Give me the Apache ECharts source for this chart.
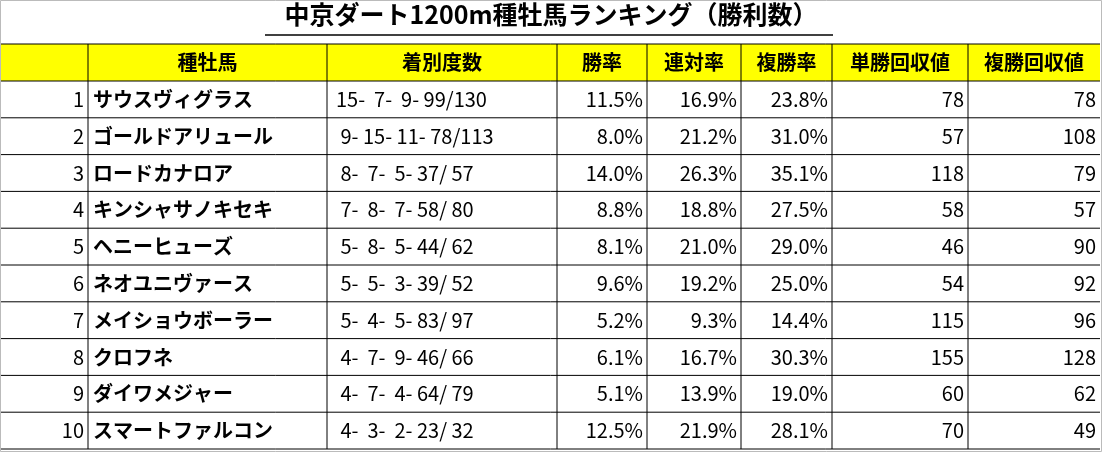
<!DOCTYPE html>
<html lang="ja">
<head>
<meta charset="utf-8">
<script src="https://cdn.jsdelivr.net/npm/echarts@6/dist/echarts.min.js"></script>
<style>html,body{margin:0;padding:0;background:#fff}#c{width:1102px;height:452px}</style>
</head>
<body>
<div id="c"></div>
<script>
var title = '中京ダート1200m種牡馬ランキング（勝利数）';
var headers = ['', '種牡馬', '着別度数', '勝率', '連対率', '複勝率', '単勝回収値', '複勝回収値'];
var ranks = ['1','2','3','4','5','6','7','8','9','10'];
var sires = ['サウスヴィグラス','ゴールドアリュール','ロードカナロア','キンシャサノキセキ','ヘニーヒューズ','ネオユニヴァース','メイショウボーラー','クロフネ','ダイワメジャー','スマートファルコン'];
var records = ['15-  7-  9- 99/130',' 9- 15- 11- 78/113',' 8-  7-  5- 37/ 57',' 7-  8-  7- 58/ 80',' 5-  8-  5- 44/ 62',' 5-  5-  3- 39/ 52',' 5-  4-  5- 83/ 97',' 4-  7-  9- 46/ 66',' 4-  7-  4- 64/ 79',' 4-  3-  2- 23/ 32'];
var winRate = ['11.5%','8.0%','14.0%','8.8%','8.1%','9.6%','5.2%','6.1%','5.1%','12.5%'];
var rentaiRate = ['16.9%','21.2%','26.3%','18.8%','21.0%','19.2%','9.3%','16.7%','13.9%','21.9%'];
var fukushoRate = ['23.8%','31.0%','35.1%','27.5%','29.0%','25.0%','14.4%','30.3%','19.0%','28.1%'];
var winReturn = [78,57,118,58,46,54,115,155,60,70];
var placeReturn = [78,108,79,57,90,92,96,128,62,49];

var colX = [1, 88, 327, 557, 647, 741, 832, 968, 1100];
var top0 = 44, headH = 37, rowH = 36.8;
var aligns = ['right','left','left','right','right','right','right','right'];
var font = '"Noto Sans CJK JP", sans-serif';

var g = [];
g.push({type:'text', left:'center', top:2, style:{text:title, font:'bold 25px ' + font, fill:'#000'}});
g.push({type:'line', shape:{x1:265, y1:35, x2:833, y2:35}, style:{stroke:'#000', lineWidth:1.5}});
g.push({type:'rect', shape:{x:colX[0], y:top0, width:colX[8]-colX[0], height:headH}, style:{fill:'#ffff00'}});

var cols = [ranks, sires, records, winRate, rentaiRate, fukushoRate, winReturn, placeReturn];
for (var c = 0; c < 8; c++) {
  var cx = (colX[c] + colX[c+1]) / 2;
  g.push({type:'text', x:cx, y:top0 + headH/2, style:{text:headers[c], font:'bold 20px ' + font, fill:'#000', align:'center', verticalAlign:'middle'}});
  for (var r = 0; r < 10; r++) {
    var y = top0 + headH + r*rowH + rowH/2;
    var al = aligns[c];
    var x = al === 'right' ? colX[c+1] - 4 : colX[c] + (c === 2 ? 9 : 5);
    g.push({type:'text', x:x, y:y, style:{text:String(cols[c][r]), font:(c === 1 ? 'bold 20px ' : '20px ') + font, fill:'#000', align:al, verticalAlign:'middle'}});
  }
}
// grid lines
var bottom = top0 + headH + 10*rowH;
for (var i = 0; i <= 11; i++) {
  var yy = i === 0 ? top0 : top0 + headH + (i-1)*rowH;
  g.push({type:'line', shape:{x1:colX[0], y1:yy, x2:colX[8], y2:yy}, style:{stroke:'#000', lineWidth:1}});
}
for (var k = 1; k < colX.length - 1; k++) {
  g.push({type:'line', shape:{x1:colX[k], y1:top0, x2:colX[k], y2:bottom}, style:{stroke:'#000', lineWidth:1}});
}
g.push({type:'rect', shape:{x:0.5, y:0.5, width:1101, height:451}, style:{fill:null, stroke:'#bbb', lineWidth:1}});

var chart = echarts.init(document.getElementById('c'), null, {renderer:'canvas'});
chart.setOption({backgroundColor:'#fff', graphic:g});
</script>
</body>
</html>
